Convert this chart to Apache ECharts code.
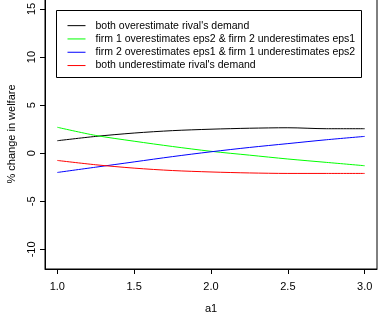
<!DOCTYPE html>
<html>
<head>
<meta charset="utf-8">
<script src="https://cdn.jsdelivr.net/npm/echarts@6/dist/echarts.min.js"></script>
<style>
  html, body { margin: 0; padding: 0; background: #fff; }
  #chart { width: 378px; height: 313px; }
</style>
</head>
<body>
<div id="chart"></div>
<script>
// welfare change vs a1
var a1 = [1.0, 1.25, 1.5, 1.75, 2.0, 2.25, 2.5, 2.75, 3.0];
var bothOver = [1.3, 1.75, 2.1, 2.35, 2.5, 2.6, 2.65, 2.55, 2.55];
var firm1Over = [2.7, 1.85, 1.25, 0.7, 0.2, -0.2, -0.6, -0.95, -1.3];
var firm2Over = [-2.0, -1.45, -0.9, -0.35, 0.15, 0.6, 1.0, 1.4, 1.75];
var bothUnder = [-0.75, -1.2, -1.55, -1.8, -1.95, -2.05, -2.1, -2.1, -2.1];
var xTicks = [1.0, 1.5, 2.0, 2.5, 3.0];
var yTicks = [-10, -5, 0, 5, 10, 15];
var seriesNames = [
    "both overestimate rival's demand",
    'firm 1 overestimates eps2 & firm 2 underestimates eps1',
    'firm 2 overestimates eps1 & firm 1 underestimates eps2',
    "both underestimate rival's demand"
];
var seriesColors = ['#000000', '#00ff00', '#0000ff', '#ff0000'];

function pairs(ys) {
    return a1.map(function (x, i) { return [x, ys[i]]; });
}

var dom = document.getElementById('chart');
var myChart = echarts.init(dom);
var font = 'Liberation Sans, Arial, sans-serif';

var option = {
    animation: false,
    textStyle: { fontFamily: font, color: '#000' },
    grid: {
        left: 45, right: 1, top: -1, bottom: 44,
        outerBoundsMode: 'none',
        show: true, borderColor: '#000', borderWidth: 1
    },
    graphic: [{
        type: 'rect',
        shape: { x: 56.5, y: 10.5, width: 305, height: 67 },
        style: { fill: '#fff', stroke: '#000', lineWidth: 1 },
        z: 50
    }],
    legend: {
        data: seriesNames,
        orient: 'vertical',
        left: 56, top: 10,
        padding: [9, 6, 6, 11],
        itemWidth: 18,
        itemHeight: 8,
        itemGap: 0,
        z: 60,
        itemStyle: { opacity: 0 },
        lineStyle: { width: 1 },
        textStyle: { fontFamily: font, fontSize: 10.5, color: '#000', lineHeight: 13.3, padding: [0, 0, 0, 5] }
    },
    xAxis: {
        type: 'value',
        min: 0.92, max: 3.08,
        name: 'a1',
        nameLocation: 'middle',
        nameGap: 34,
        nameTextStyle: { fontSize: 11, color: '#000' },
        axisLine: { show: true, onZero: false, lineStyle: { color: '#000' } },
        axisTick: { show: true, length: 5, customValues: xTicks, lineStyle: { color: '#000' } },
        axisLabel: {
            customValues: xTicks, fontSize: 11, color: '#000', margin: 12,
            formatter: function (v) { return v.toFixed(1); }
        },
        splitLine: { show: false }
    },
    yAxis: {
        type: 'value',
        min: -12.04, max: 16.04,
        name: '% change in welfare',
        nameLocation: 'middle',
        nameGap: 28,
        nameTextStyle: { fontSize: 11, color: '#000' },
        axisLine: { show: true, onZero: false, lineStyle: { color: '#000' } },
        axisTick: { show: true, length: 5, customValues: yTicks, lineStyle: { color: '#000' } },
        axisLabel: { customValues: yTicks, fontSize: 11, color: '#000', rotate: 90, margin: 8 },
        splitLine: { show: false }
    },
    series: [bothOver, firm1Over, firm2Over, bothUnder].map(function (ys, i) {
        return {
            name: seriesNames[i],
            type: 'line',
            data: pairs(ys),
            smooth: 0.3,
            symbol: 'none',
            color: seriesColors[i],
            lineStyle: { color: seriesColors[i], width: 1 },
            itemStyle: { color: seriesColors[i] }
        };
    })
};

if (option && typeof option === 'object') {
    myChart.setOption(option);
}
</script>
</body>
</html>
